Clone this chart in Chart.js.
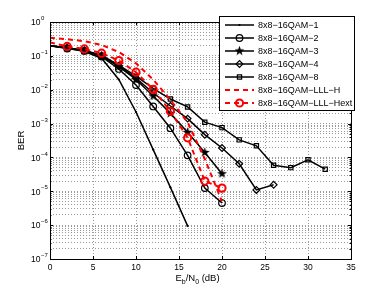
<!DOCTYPE html>
<html>
<head>
<meta charset="utf-8">
<script src="https://cdn.jsdelivr.net/npm/chart.js@4.4.1/dist/chart.umd.min.js"></script>
<style>
  html, body { margin: 0; padding: 0; background: #fff; }
  canvas { display: block; }
</style>
</head>
<body>
<canvas id="myChart" width="388" height="292"></canvas>
<script>
// Eb/N0 points (dB), every series starts at 0 and steps by 2
const EBN0 = [0, 2, 4, 6, 8, 10, 12, 14, 16, 18, 20, 22, 24, 26, 28, 30, 32];

const BER_1 = [0.2, 0.17, 0.135, 0.085, 0.02, 2.2e-3, 1.7e-4, 1.3e-5, 9.5e-7];
const BER_2 = [0.2, 0.165, 0.14, 0.095, 0.041, 0.0138, 3.2e-3, 7.3e-4, 1.15e-4, 1.24e-5, 4.5e-6];
const BER_3 = [0.2, 0.172, 0.145, 0.1, 0.048, 0.02, 6.5e-3, 2e-3, 5.5e-4, 1.4e-4, 3.3e-5];
const BER_4 = [0.2, 0.175, 0.145, 0.1, 0.05, 0.022, 8e-3, 3.3e-3, 1.4e-3, 4.7e-4, 1.9e-4, 6.5e-5, 1.1e-5, 1.55e-5];
const BER_8 = [0.2, 0.175, 0.145, 0.105, 0.053, 0.025, 0.011, 5.3e-3, 3.1e-3, 1.1e-3, 7.6e-4, 3.3e-4, 2.2e-4, 5.9e-5, 5e-5, 8.5e-5, 4.5e-5];
const BER_LLL_H = [0.34, 0.31, 0.27, 0.21, 0.13, 0.06, 0.02, 5e-3, 1.1e-3, 9e-5, 5e-6];
const BER_LLL_HEXT = [0.25, 0.19, 0.16, 0.12, 0.073, 0.033, 0.0102, 2.3e-3, 3.8e-4, 2e-5, 1.24e-5];

const LABELS = [
  '8x8\u221216QAM\u22121',
  '8x8\u221216QAM\u22122',
  '8x8\u221216QAM\u22123',
  '8x8\u221216QAM\u22124',
  '8x8\u221216QAM\u22128',
  '8x8\u221216QAM\u2212LLL\u2212H',
  '8x8\u221216QAM\u2212LLL\u2212Hext',
];
const X_TICKS = [0, 5, 10, 15, 20, 25, 30, 35];
const Y_EXPONENTS = [0, -1, -2, -3, -4, -5, -6, -7];

const toPoints = (ys) => ys.map((y, i) => ({ x: EBN0[i], y: y }));

// filled pentagram marker
const starMarker = (() => {
  const c = document.createElement('canvas');
  c.width = 11;
  c.height = 11;
  const g = c.getContext('2d');
  g.fillStyle = '#000';
  g.beginPath();
  for (let i = 0; i < 10; i++) {
    const r = i % 2 ? 2.1 : 5.2;
    const a = -Math.PI / 2 + (i * Math.PI) / 5;
    g.lineTo(5.5 + r * Math.cos(a), 5.5 + r * Math.sin(a));
  }
  g.closePath();
  g.fill();
  return c;
})();

// no marker drawn on the axis edge (x = 0)
const radiusFrom = (r) => (c) => (c.dataIndex === 0 ? 0 : r);

const blackLine = (label, data, style, radius) => ({
  label: label,
  data: toPoints(data),
  borderColor: '#000',
  backgroundColor: 'rgba(0,0,0,0)',
  borderWidth: 1.5,
  pointStyle: style,
  pointRadius: radiusFrom(radius),
  legendRadius: radius,
  pointBorderWidth: 1.2,
  pointBorderColor: '#000',
  pointBackgroundColor: 'rgba(0,0,0,0)',
  fill: false,
  tension: 0,
  order: 1,
});

const datasets = [
  blackLine(LABELS[0], BER_1, 'cross', 1.1),
  blackLine(LABELS[1], BER_2, 'circle', 3.3),
  blackLine(LABELS[2], BER_3, starMarker, 4),
  blackLine(LABELS[3], BER_4, 'rectRot', 3.4),
  blackLine(LABELS[4], BER_8, 'rect', 3),
  {
    label: LABELS[5],
    data: toPoints(BER_LLL_H),
    borderColor: '#ff0000',
    borderWidth: 2,
    borderDash: [5, 4],
    pointRadius: 0,
    legendRadius: 0,
    fill: false,
    tension: 0,
    order: 0,
  },
  {
    label: LABELS[6],
    data: toPoints(BER_LLL_HEXT),
    borderColor: '#ff0000',
    backgroundColor: 'rgba(0,0,0,0)',
    borderWidth: 2,
    borderDash: [5, 4],
    pointStyle: 'circle',
    pointRadius: radiusFrom(3.6),
    legendRadius: 3.6,
    pointBorderWidth: 2,
    pointBorderColor: '#ff0000',
    pointBackgroundColor: 'rgba(0,0,0,0)',
    fill: false,
    tension: 0,
    order: 0,
  },
];

const FONT = '"Liberation Sans", Arial, Helvetica, sans-serif';

const frame = {
  id: 'frame',
  afterDraw(chart) {
    const ctx = chart.ctx;
    const a = chart.chartArea;
    const xs = chart.scales.x;
    const ys = chart.scales.y;
    ctx.save();
    ctx.strokeStyle = '#000';
    ctx.lineWidth = 1;
    ctx.setLineDash([]);
    ctx.strokeRect(a.left + 0.5, a.top + 0.5, a.right - a.left, a.bottom - a.top);

    // inward tick marks
    ctx.beginPath();
    X_TICKS.forEach((v) => {
      const px = Math.round(xs.getPixelForValue(v)) + 0.5;
      ctx.moveTo(px, a.bottom); ctx.lineTo(px, a.bottom - 3);
      ctx.moveTo(px, a.top); ctx.lineTo(px, a.top + 3);
    });
    ys.ticks.forEach((t) => {
      const py = Math.round(ys.getPixelForValue(t.value)) + 0.5;
      const len = t.major ? 3 : 1.5;
      ctx.moveTo(a.left, py); ctx.lineTo(a.left + len, py);
      ctx.moveTo(a.right, py); ctx.lineTo(a.right - len, py);
    });
    ctx.stroke();

    // tick labels
    ctx.fillStyle = '#000';
    ctx.font = '8.5px ' + FONT;
    ctx.textAlign = 'center';
    ctx.textBaseline = 'middle';
    X_TICKS.forEach((v) => {
      ctx.fillText(String(v), xs.getPixelForValue(v), a.bottom + 9);
    });
    ctx.textAlign = 'left';
    Y_EXPONENTS.forEach((e) => {
      const py = ys.getPixelForValue(Math.pow(10, e));
      ctx.font = '8.5px ' + FONT;
      ctx.fillText('10', 31, py + 1);
      const w = ctx.measureText('10').width;
      ctx.font = '6px ' + FONT;
      ctx.fillText(e === 0 ? '0' : '\u2212' + String(-e), 31 + w + 0.5, py - 3.5);
    });

    // axis titles
    ctx.textBaseline = 'alphabetic';
    const parts = [
      ['E', 9.5, 0], ['b', 7, 2.5], ['/N', 9.5, 0], ['0', 7, 2.5], [' (dB)', 9.5, 0],
    ];
    let total = 0;
    parts.forEach((p) => { ctx.font = p[1] + 'px ' + FONT; total += ctx.measureText(p[0]).width; });
    let cx = (a.left + a.right) / 2 - total / 2 - 3;
    parts.forEach((p) => {
      ctx.font = p[1] + 'px ' + FONT;
      ctx.fillText(p[0], cx, 281 + p[2]);
      cx += ctx.measureText(p[0]).width;
    });
    ctx.save();
    ctx.translate(24, (a.top + a.bottom) / 2);
    ctx.rotate(-Math.PI / 2);
    ctx.textAlign = 'center';
    ctx.font = '9.5px ' + FONT;
    ctx.fillText('BER', 0, 0);
    ctx.restore();

    // legend box
    const lx = 219.5, ly = 16.5, lw = 135, lh = 94;
    ctx.fillStyle = '#fff';
    ctx.fillRect(lx, ly, lw, lh);
    ctx.strokeStyle = '#000';
    ctx.lineWidth = 1;
    ctx.strokeRect(lx, ly, lw, lh);
    chart.data.datasets.forEach((ds, i) => {
      const y = 25 + i * 13;
      ctx.save();
      ctx.strokeStyle = ds.borderColor;
      ctx.lineWidth = ds.borderWidth;
      ctx.setLineDash(ds.borderDash || []);
      ctx.beginPath();
      ctx.moveTo(225, y);
      ctx.lineTo(254, y);
      ctx.stroke();
      ctx.restore();
      if (ds.legendRadius > 0) {
        ctx.save();
        ctx.strokeStyle = ds.pointBorderColor;
        ctx.fillStyle = ds.pointBackgroundColor;
        ctx.lineWidth = ds.pointBorderWidth;
        Chart.helpers.drawPoint(ctx, {
          pointStyle: ds.pointStyle,
          radius: ds.legendRadius,
          rotation: 0,
          borderWidth: ds.pointBorderWidth,
        }, 239.5, y);
        ctx.restore();
      }
      ctx.fillStyle = '#000';
      ctx.font = '9px ' + FONT;
      ctx.textAlign = 'left';
      ctx.textBaseline = 'middle';
      ctx.fillText(ds.label, 258, y + 0.5);
    });
    ctx.restore();
  },
};

const ctx = document.getElementById('myChart').getContext('2d');
const myChart = new Chart(ctx, {
  type: 'line',
  data: { datasets: datasets },
  options: {
    responsive: false,
    animation: false,
    devicePixelRatio: 1,
    layout: { padding: { left: 50, right: 37, top: 22, bottom: 33 } },
    plugins: { legend: { display: false }, tooltip: { enabled: false } },
    scales: {
      x: {
        type: 'linear',
        min: 0,
        max: 35,
        ticks: { display: false, stepSize: 5 },
        grid: { color: '#9a9a9a', lineWidth: 1, drawTicks: false },
        border: { display: false, dash: [1, 2] },
      },
      y: {
        type: 'logarithmic',
        min: 1e-7,
        max: 1,
        afterBuildTicks: (scale) => {
          const ticks = [];
          for (let e = -7; e < 0; e++) {
            for (let m = 1; m <= 9; m++) {
              ticks.push({ value: m * Math.pow(10, e), major: m === 1 });
            }
          }
          ticks.push({ value: 1, major: true });
          scale.ticks = ticks;
        },
        ticks: { display: false },
        grid: { color: '#9a9a9a', lineWidth: 1, drawTicks: false },
        border: { display: false, dash: [1, 2] },
      },
    },
  },
  plugins: [frame],
});
</script>
</body>
</html>
